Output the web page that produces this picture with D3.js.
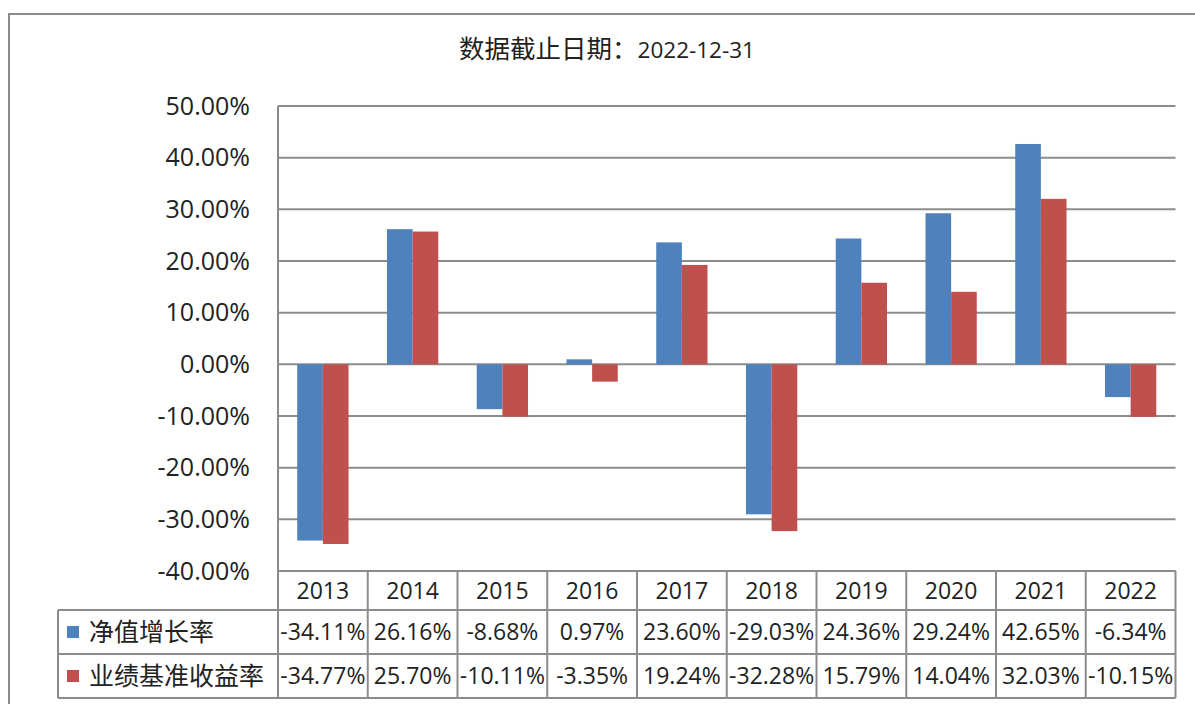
<!DOCTYPE html>
<html>
<head>
<meta charset="utf-8">
<script src="https://cdn.jsdelivr.net/npm/d3@7"></script>
<style>
  html, body { margin: 0; padding: 0; background: #fff; }
  svg text { font-family: "Open Sans", "Noto Sans CJK SC", sans-serif; fill: #222; }
</style>
</head>
<body>
<svg width="1195" height="704"></svg>
<script>
// data
var years = ["2013", "2014", "2015", "2016", "2017", "2018", "2019", "2020", "2021", "2022"];
var seriesNames = ["净值增长率", "业绩基准收益率"];
var navGrowth = [-34.11, 26.16, -8.68, 0.97, 23.60, -29.03, 24.36, 29.24, 42.65, -6.34];
var benchReturn = [-34.77, 25.70, -10.11, -3.35, 19.24, -32.28, 15.79, 14.04, 32.03, -10.15];
var yTicks = [50, 40, 30, 20, 10, 0, -10, -20, -30, -40];
var seriesColors = ["#4f81bd", "#c0504d"];
var titleCn = "数据截止日期：";
var titleDate = "2022-12-31";

var svg = d3.select("svg");
var lineColor = "#8c8c8c";

// outer chart border (right & bottom run off the picture)
svg.append("rect")
    .attr("x", 9).attr("y", 14)
    .attr("width", 1200).attr("height", 700)
    .attr("fill", "none")
    .attr("stroke", lineColor)
    .attr("stroke-width", 2);

// title
var title = svg.append("text")
    .attr("x", 607)
    .attr("y", 52)
    .attr("dy", "0.35em")
    .attr("text-anchor", "middle");
title.append("tspan").attr("font-size", 25.5).text(titleCn);
title.append("tspan").attr("font-size", 22.5).text(titleDate);

// scales
var x = d3.scaleBand()
    .domain(years)
    .range([278, 1175.5])
    .padding(0);

var xs = d3.scaleBand()
    .domain(seriesNames)
    .range([0, x.bandwidth()])
    .paddingInner(0)
    .paddingOuter(0.75);

var y = d3.scaleLinear()
    .domain([-40, 50])
    .range([571, 106]);

// gridlines
svg.append("g")
  .selectAll("line")
  .data(yTicks)
  .enter().append("line")
    .attr("x1", x.range()[0])
    .attr("x2", x.range()[1])
    .attr("y1", function(d) { return y(d); })
    .attr("y2", function(d) { return y(d); })
    .attr("stroke", lineColor)
    .attr("stroke-width", 2);

// y axis labels
svg.append("g")
  .selectAll("text")
  .data(yTicks)
  .enter().append("text")
    .attr("x", 250)
    .attr("y", function(d) { return y(d); })
    .attr("dy", "0.35em")
    .attr("text-anchor", "end")
    .attr("font-size", 25)
    .text(function(d) { return d.toFixed(2) + "%"; });

// bars
var values = [navGrowth, benchReturn];
var bars = [];
years.forEach(function(yr, i) {
    seriesNames.forEach(function(s, k) {
        bars.push({ year: yr, series: s, k: k, value: values[k][i] });
    });
});

svg.append("g")
  .selectAll("rect")
  .data(bars)
  .enter().append("rect")
    .attr("x", function(d) { return x(d.year) + xs(d.series); })
    .attr("width", xs.bandwidth())
    .attr("y", function(d) { return y(Math.max(0, d.value)); })
    .attr("height", function(d) { return Math.abs(y(d.value) - y(0)); })
    .attr("fill", function(d) { return seriesColors[d.k]; });

// data table
var rowTop = [571, 610, 654];
var rowBottom = 698;
var legendLeft = 58;
var left = x.range()[0], right = x.range()[1];
var table = svg.append("g");

// horizontal lines
table.append("line")
    .attr("x1", left).attr("x2", right)
    .attr("y1", rowTop[0]).attr("y2", rowTop[0]);
[rowTop[1], rowTop[2], rowBottom].forEach(function(yy) {
    table.append("line")
        .attr("x1", legendLeft).attr("x2", right)
        .attr("y1", yy).attr("y2", yy);
});
// left axis line continues down to bottom of table
table.append("line")
    .attr("x1", left).attr("x2", left)
    .attr("y1", y(50)).attr("y2", rowBottom);
table.append("line")
    .attr("x1", legendLeft).attr("x2", legendLeft)
    .attr("y1", rowTop[1]).attr("y2", rowBottom);
// column separators
years.forEach(function(yr) {
    table.append("line")
        .attr("x1", x(yr) + x.bandwidth()).attr("x2", x(yr) + x.bandwidth())
        .attr("y1", rowTop[0]).attr("y2", rowBottom);
});
table.selectAll("line")
    .attr("stroke", lineColor)
    .attr("stroke-width", 2);

// header years
table.append("g")
  .selectAll("text")
  .data(years)
  .enter().append("text")
    .attr("x", function(d) { return x(d) + x.bandwidth() / 2; })
    .attr("y", (rowTop[0] + rowTop[1]) / 2)
    .attr("dy", "0.35em")
    .attr("text-anchor", "middle")
    .attr("font-size", 23)
    .text(function(d) { return d; });

// value rows
seriesNames.forEach(function(s, k) {
    var top = rowTop[k + 1];
    var bottom = k === 0 ? rowTop[2] : rowBottom;
    var mid = (top + bottom) / 2;

    table.append("rect")
        .attr("x", 67).attr("y", mid - 6)
        .attr("width", 12).attr("height", 12)
        .attr("fill", seriesColors[k]);

    table.append("text")
        .attr("x", 89)
        .attr("y", mid)
        .attr("dy", "0.35em")
        .attr("font-size", 25)
        .text(s);

    table.append("g")
      .selectAll("text")
      .data(values[k])
      .enter().append("text")
        .attr("x", function(d, i) { return x(years[i]) + x.bandwidth() / 2; })
        .attr("y", mid)
        .attr("dy", "0.35em")
        .attr("text-anchor", "middle")
        .attr("font-size", 23)
        .text(function(d) { return d.toFixed(2) + "%"; });
});
</script>
</body>
</html>
